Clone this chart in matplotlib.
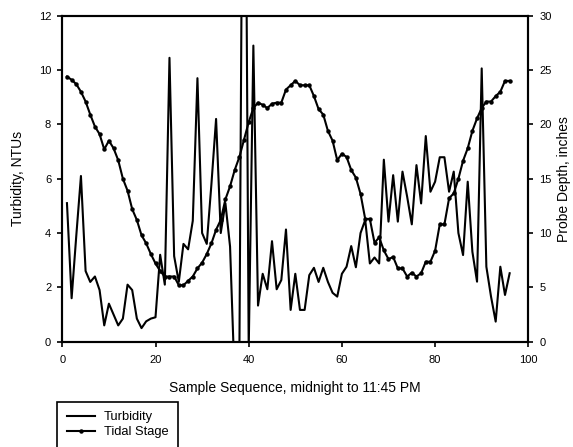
import matplotlib
matplotlib.use("Agg")
import matplotlib.pyplot as plt
import numpy as np

plt.rcParams["font.family"] = ["Liberation Sans", "DejaVu Sans"]

# ── Dados (96 amostras, 15 em 15 min) ─────────────────────────────────────────
sample = np.arange(1, 97)

turbidity = [
    5.1, 1.6, 3.9, 6.1, 2.6, 2.2, 2.4, 1.9, 0.6, 1.4,
    1.0, 0.6, 0.85, 2.1, 1.9, 0.85, 0.5, 0.75, 0.85, 0.9,
    3.2, 2.1, 10.45, 3.15, 2.2, 3.6, 3.4, 4.45, 9.7, 4.0,
    3.6, 5.8, 8.2, 4.0, 5.1, 3.5, -1.5, -0.5, 28.0, -0.3,
    10.9, 1.33, 2.5, 1.93, 3.7, 1.93, 2.27, 4.13, 1.17, 2.5,
    1.17, 1.17, 2.45, 2.72, 2.2, 2.72, 2.2, 1.8, 1.66, 2.5,
    2.76, 3.52, 2.74, 4.0, 4.48, 2.88, 3.1, 2.88, 6.7, 4.42,
    6.13, 4.42, 6.26, 5.34, 4.32, 6.5, 5.09, 7.57, 5.52, 5.89,
    6.79, 6.79, 5.52, 6.26, 4.0, 3.19, 5.89, 3.31, 2.21, 10.06,
    2.76, 1.66, 0.74, 2.76, 1.72, 2.52,
]

tidal = [
    24.4, 24.1, 23.7, 23.0, 22.1, 20.9, 19.8, 19.1, 17.7, 18.5,
    17.8, 16.7, 15.0, 13.9, 12.2, 11.2, 9.8, 9.05, 8.07, 7.2,
    6.5, 6.0, 6.0, 6.0, 5.2, 5.2, 5.6, 6.0, 6.75, 7.27,
    8.07, 9.05, 10.3, 11.2, 13.1, 14.3, 15.8, 17.0, 18.6, 20.2,
    21.5, 22.0, 21.8, 21.5, 21.9, 22.0, 22.0, 23.2, 23.6, 24.0,
    23.6, 23.6, 23.6, 22.6, 21.4, 20.9, 19.4, 18.5, 16.7, 17.3,
    17.0, 15.8, 15.1, 13.6, 11.3, 11.3, 9.1, 9.6, 8.4, 7.6,
    7.8, 6.75, 6.75, 6.0, 6.35, 6.0, 6.3, 7.36, 7.36, 8.37,
    10.8, 10.8, 13.2, 13.65, 15.0, 16.65, 17.8, 19.4, 20.55, 21.5,
    22.1, 22.1, 22.6, 23.0, 24.0, 24.0,
]

# ── Figura ────────────────────────────────────────────────────────────────────
W, H = 573, 447
fig = plt.figure(figsize=(W / 100, H / 100), dpi=100, facecolor="white")
ax = fig.add_axes([62.3 / W, 1 - 341.7 / H, 466 / W, 326 / H])
ax2 = ax.twinx()

l1, = ax.plot(sample, turbidity, color="black", lw=1.5, label="Turbidity")
l2, = ax2.plot(sample, tidal, color="black", lw=1.5, marker="o", ms=2.2,
               label="Tidal Stage")

ax.set_xlim(0, 100)
ax.set_ylim(0, 12)
ax2.set_ylim(0, 30)
ax.set_xticks(np.arange(0, 101, 20))
ax.set_yticks(np.arange(0, 13, 2))
ax2.set_yticks(np.arange(0, 31, 5))

for a in (ax, ax2):
    for sp in a.spines.values():
        sp.set_linewidth(1.5)
        sp.set_color("black")
    a.tick_params(direction="out", length=3.5, width=1.2, labelsize=8,
                  pad=4.5, colors="black")
ax.tick_params(axis="x", pad=6)

ax.set_xlabel("Sample Sequence, midnight to 11:45 PM", fontsize=10)
ax.xaxis.set_label_coords(0.5, -0.143)
ax.xaxis.label.set_va("center")

ax.set_ylabel("Turbidity, NTUs", fontsize=10)
ax.yaxis.set_label_coords(-0.094, 0.5)
ax.yaxis.label.set_va("center")

ax2.set_ylabel("Probe Depth, inches", fontsize=10, rotation=90)
ax2.yaxis.set_label_coords(1.077, 0.5)
ax2.yaxis.label.set_va("center")

# ── Legenda (parte de baixo fica fora da figura) ──────────────────────────────
leg = fig.legend(handles=[l1, l2], loc="upper left",
                 bbox_to_anchor=(57.3 / W, 1 - 401.7 / H),
                 bbox_transform=fig.transFigure,
                 fontsize=9.3, numpoints=1, handlelength=2.2,
                 handletextpad=0.65, labelspacing=0.2, borderpad=0.75,
                 borderaxespad=0, fancybox=False, framealpha=1,
                 edgecolor="black")
leg.get_frame().set_linewidth(1.2)

fig.savefig("out.png", dpi=100, facecolor="white")
